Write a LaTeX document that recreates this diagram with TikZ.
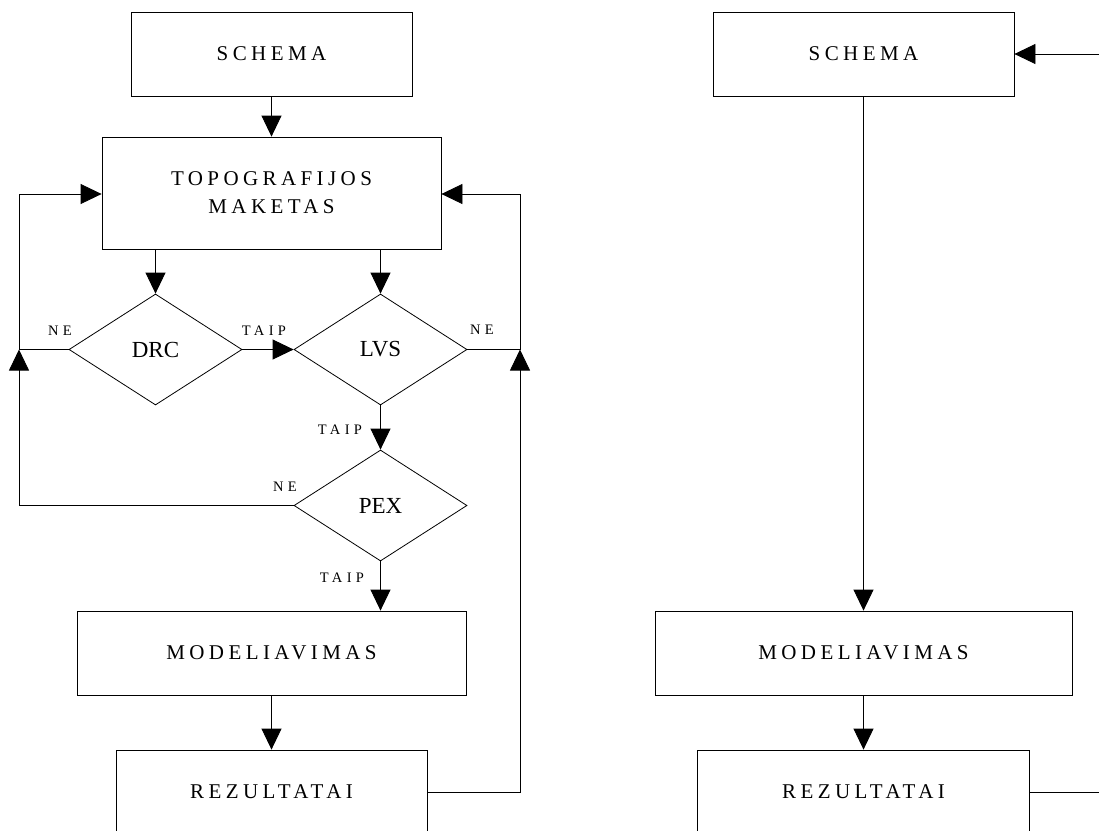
\documentclass[tikz,border=0pt]{standalone}
\usepackage{fontspec}
\setmainfont{Liberation Serif}
\newfontfamily\boxfont[LetterSpace=21]{Liberation Serif}
\newfontfamily\labfont[LetterSpace=30]{Liberation Serif}
\usetikzlibrary{arrows.meta,shapes.geometric}
\begin{document}
\begin{tikzpicture}[x=1pt,y=-1pt,
  line width=0.8pt,
  box/.style={draw, rectangle, minimum height=84pt, inner sep=0pt,
    font=\boxfont\fontsize{21}{28}\selectfont, align=center},
  dec/.style={draw, diamond, minimum width=173pt, minimum height=111pt,
    inner sep=0pt, font=\fontsize{23}{28}\selectfont},
  lab/.style={inner sep=0pt, font=\labfont\fontsize{14.5}{16}\selectfont},
  arr/.style={-{Triangle[length=21pt,width=20pt]}},
]
\path[use as bounding box] (0,0) rectangle (1099,830);
\clip (0,0) rectangle (1099,830);

% left flow
\node[box, minimum width=281pt] (s1) at (271.5,54) {SCHEMA};
\node[box, minimum width=339pt, minimum height=112pt] (t) at (271.5,193) {TOPOGRAFIJOS\\MAKETAS};
\node[dec] (drc) at (155.5,349.5) {DRC};
\node[dec] (lvs) at (380.5,349.5) {LVS};
\node[dec] (pex) at (380.5,505.5) {PEX};
\node[box, minimum width=389pt] (m1) at (271.5,653) {MODELIAVIMAS};
\node[box, minimum width=311pt] (r1) at (271.5,792) {REZULTATAI};

% right flow
\node[box, minimum width=301pt] (s2) at (863.5,54) {SCHEMA};
\node[box, minimum width=417pt] (m2) at (863.5,653) {MODELIAVIMAS};
\node[box, minimum width=332pt] (r2) at (863.5,792) {REZULTATAI};

% helper coordinates
\coordinate (lt) at (19,194);
\coordinate (rt) at (520,194);
\coordinate (e1) at (1110,54);
\coordinate (e2) at (1110,792);

% labels
\node[lab] (ne1) at (60,331) {NE};
\node[lab] (taip1) at (264,331) {TAIP};
\node[lab] (ne2) at (482,330) {NE};
\node[lab] (taip2) at (340,430) {TAIP};
\node[lab] (ne3) at (285,487) {NE};
\node[lab] (taip3) at (342,578) {TAIP};

% connectors left
\draw[arr] (s1) -- (t);
\draw[arr] (t.south -| drc.north) -- (drc.north);
\draw[arr] (t.south -| lvs.north) -- (lvs.north);
\draw[arr] (drc.east) -- (lvs.west);
\draw[arr] (lvs.south) -- (pex.north);
\draw[arr] (pex.south) -- (pex.south |- m1.north);
\draw[arr] (m1) -- (r1);
\draw[arr] (drc.west) -| (lt) -- (lt -| t.west);
\draw[arr] (pex.west) -| (drc.west -| lt);
\draw[arr] (lvs.east) -| (rt) -- (rt -| t.east);
\draw[arr] (r1.east) -| (lvs.east -| rt);

% connectors right
\draw[arr] (e1) -- (s2.east);
\draw[arr] (s2) -- (m2);
\draw[arr] (m2) -- (r2);
\draw (r2.east) -- (e2);
\end{tikzpicture}
\end{document}
